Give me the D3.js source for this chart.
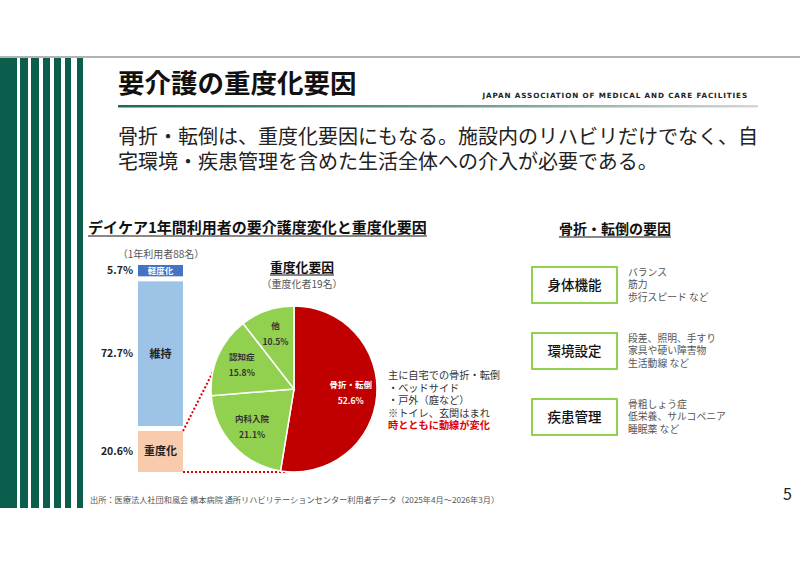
<!DOCTYPE html>
<html>
<head>
<meta charset="utf-8">
<script src="https://cdn.jsdelivr.net/npm/d3@7"></script>
<style>
  body { margin: 0; background: #fff; }
  svg { font-family: "Noto Sans CJK JP", "Noto Sans", sans-serif; }
</style>
</head>
<body>
<div id="slide"></div>
<script>
// 要介護度変化（1年利用者88名）
const barCats = ['軽度化', '維持', '重度化']
const barVals = [5.7, 72.7, 20.6]
// 重度化要因（重度化者19名）
const pieCats = ['骨折・転倒', '内科入院', '認知症', '他']
const pieVals = [52.6, 21.1, 15.8, 10.5]
// 骨折・転倒の要因
const factorCats = ['身体機能', '環境設定', '疾患管理']
const factorItems = [
  ['バランス', '筋力', '歩行スピード など'],
  ['段差、照明、手すり', '家具や硬い障害物', '生活動線 など'],
  ['骨粗しょう症', '低栄養、サルコペニア', '睡眠薬 など']
]
const noteLines = ['主に自宅での骨折・転倒', '・ベッドサイド', '・戸外（庭など）', '※トイレ、玄関はまれ', '時とともに動線が変化']

let width = 800
let height = 566
let green = '#0b5e4c'

let svg = d3.select('#slide')
  .append('svg')
  .attr('width', width)
  .attr('height', height)

let defs = svg.append('defs')
let grad = defs.append('linearGradient').attr('id', 'rule')
grad.append('stop').attr('offset', '0%').attr('stop-color', '#1d6b55')
grad.append('stop').attr('offset', '55%').attr('stop-color', '#6e9c8c')
grad.append('stop').attr('offset', '100%').attr('stop-color', '#d6d6d6')

// 左の縦縞と上の罫線
svg.append('line')
  .attr('x1', 0).attr('x2', width).attr('y1', 57).attr('y2', 57)
  .attr('stroke', '#9a9a9a').attr('stroke-width', 1.5)
let stripes = [[0, 17], [20, 8], [31, 8], [43, 7], [54, 7], [65, 6], [77, 6]]
svg.selectAll('rect.stripe')
  .data(stripes)
  .enter()
  .append('rect')
  .attr('class', 'stripe')
  .attr('x', d => d[0]).attr('width', d => d[1])
  .attr('y', 58).attr('height', 450)
  .attr('fill', green)

// タイトル
svg.append('text')
  .attr('x', 118).attr('y', 93)
  .attr('font-size', 26.5).attr('font-weight', 700).attr('fill', '#111')
  .text('要介護の重度化要因')
svg.append('rect')
  .attr('x', 118).attr('y', 105).attr('width', 640).attr('height', 2.5)
  .attr('fill', 'url(#rule)')
svg.append('text')
  .attr('x', 748).attr('y', 98).attr('text-anchor', 'end')
  .attr('font-family', 'DejaVu Sans').attr('font-size', 7.2).attr('font-weight', 700)
  .attr('letter-spacing', 0.9).attr('fill', '#222')
  .text('JAPAN ASSOCIATION OF MEDICAL AND CARE FACILITIES')

let lead = ['骨折・転倒は、重度化要因にもなる。施設内のリハビリだけでなく、自', '宅環境・疾患管理を含めた生活全体への介入が必要である。']
svg.selectAll('text.lead')
  .data(lead)
  .enter()
  .append('text')
  .attr('class', 'lead')
  .attr('x', 118).attr('y', (d, i) => 144 + i * 25)
  .attr('font-size', 20).attr('fill', '#222')
  .text(d => d)

// 見出し
function heading(x, y, size, txt) {
  let t = svg.append('text')
    .attr('x', x).attr('y', y)
    .attr('font-size', size).attr('font-weight', 700).attr('fill', '#111')
    .text(txt)
  let w = t.node().getComputedTextLength()
  svg.append('line')
    .attr('x1', x).attr('x2', x + w).attr('y1', y + 3).attr('y2', y + 3)
    .attr('stroke', '#111').attr('stroke-width', 1.2)
}
heading(88, 233, 15, 'デイケア1年間利用者の要介護度変化と重度化要因')
heading(559, 234, 14, '骨折・転倒の要因')
heading(270, 272, 12.8, '重度化要因')

svg.append('text')
  .attr('x', 161).attr('y', 258).attr('text-anchor', 'middle')
  .attr('font-size', 10).attr('fill', '#555')
  .text('（1年利用者88名）')
svg.append('text')
  .attr('x', 302).attr('y', 288).attr('text-anchor', 'middle')
  .attr('font-size', 10).attr('fill', '#555')
  .text('（重度化者19名）')

// 積み上げ棒
let barColors = ['#4472c4', '#9dc3e6', '#f8cbad']
let barTextColors = ['#fff', '#222', '#222']
let gap = 5
let barBottom = 472
let hScale = d3.scaleLinear().domain([0, 100]).range([0, 209 - gap * 2])
let stack = []
let yb = barBottom
for (let i = barVals.length - 1; i >= 0; i--) {
  let h = hScale(barVals[i])
  stack[i] = { cat: barCats[i], val: barVals[i], y: yb - h, h: h, i: i }
  yb = yb - h - gap
}
let barX = 138
let barW = 45
let bar = svg.selectAll('g.seg')
  .data(stack)
  .enter()
  .append('g')
  .attr('class', 'seg')
bar.append('rect')
  .attr('x', barX).attr('width', barW)
  .attr('y', d => d.y).attr('height', d => d.h)
  .attr('fill', d => barColors[d.i])
bar.append('text')
  .attr('x', barX + barW / 2).attr('y', d => d.y + d.h / 2)
  .attr('dy', '0.36em').attr('text-anchor', 'middle')
  .attr('font-size', d => d.i === 0 ? 8.5 : 11).attr('font-weight', 700)
  .attr('fill', d => barTextColors[d.i])
  .text(d => d.cat)
bar.append('text')
  .attr('x', 133).attr('y', d => d.y + d.h / 2)
  .attr('dy', '0.36em').attr('text-anchor', 'end')
  .attr('font-size', 10.5).attr('font-weight', 700).attr('fill', '#222')
  .text(d => d.val + '%')

// 円グラフ
let cx = 294
let cy = 389
let r = 83
let pieColors = ['#c00000', '#92d050', '#92d050', '#92d050']
let pie = d3.pie().sort(null).value(d => d)
let arc = d3.arc().innerRadius(0).outerRadius(r)
let labelArc = d3.arc().innerRadius(57).outerRadius(57)
let arcs = pie(pieVals)

// 点線（重度化→円）
let sev = stack[2]
svg.append('line')
  .attr('x1', barX + barW).attr('y1', sev.y)
  .attr('x2', 221).attr('y2', 356)
  .attr('stroke', '#e00000').attr('stroke-width', 2).attr('stroke-dasharray', '2,2')
svg.append('line')
  .attr('x1', barX + barW).attr('y1', barBottom)
  .attr('x2', 285).attr('y2', barBottom)
  .attr('stroke', '#e00000').attr('stroke-width', 2).attr('stroke-dasharray', '2,2')

let pg = svg.append('g').attr('transform', 'translate(' + cx + ',' + cy + ')')
pg.selectAll('path')
  .data(arcs)
  .enter()
  .append('path')
  .attr('d', arc)
  .attr('fill', (d, i) => pieColors[i])
  .attr('stroke', 'white')
  .attr('stroke-width', 1.5)
let pl = pg.selectAll('g.lab')
  .data(arcs)
  .enter()
  .append('g')
  .attr('class', 'lab')
  .attr('transform', d => 'translate(' + labelArc.centroid(d) + ')')
pl.append('text')
  .attr('y', -6).attr('text-anchor', 'middle')
  .attr('font-size', 8.5).attr('font-weight', 700)
  .attr('fill', (d, i) => i === 0 ? '#fff' : '#333')
  .text((d, i) => pieCats[i])
pl.append('text')
  .attr('y', 10).attr('text-anchor', 'middle')
  .attr('font-size', 8.5).attr('font-weight', 700)
  .attr('fill', (d, i) => i === 0 ? '#fff' : '#333')
  .text((d, i) => pieVals[i] + '%')

// 注記
svg.selectAll('text.note')
  .data(noteLines)
  .enter()
  .append('text')
  .attr('class', 'note')
  .attr('x', 388).attr('y', (d, i) => 379 + i * 12.6)
  .attr('font-size', 10.2)
  .attr('font-weight', (d, i) => i === noteLines.length - 1 ? 700 : 400)
  .attr('fill', (d, i) => i === noteLines.length - 1 ? '#e00000' : '#333')
  .text(d => d)

// 右側の要因ボックス
let boxY = [267, 333, 399]
let fg = svg.selectAll('g.factor')
  .data(factorCats)
  .enter()
  .append('g')
  .attr('class', 'factor')
  .attr('transform', (d, i) => 'translate(532,' + boxY[i] + ')')
fg.append('rect')
  .attr('width', 85).attr('height', 36)
  .attr('fill', '#fff').attr('stroke', '#92d050').attr('stroke-width', 2)
fg.append('text')
  .attr('x', 42.5).attr('y', 18).attr('dy', '0.36em').attr('text-anchor', 'middle')
  .attr('font-size', 13.5).attr('font-weight', 500).attr('fill', '#111')
  .text(d => d)
fg.each(function(d, i) {
  d3.select(this).selectAll('text.item')
    .data(factorItems[i])
    .enter()
    .append('text')
    .attr('class', 'item')
    .attr('x', 96).attr('y', (t, j) => 9 + j * 12.4)
    .attr('font-size', 9.8).attr('fill', '#555')
    .text(t => t)
})

// 出所とページ番号
svg.append('text')
  .attr('x', 90).attr('y', 503)
  .attr('font-size', 8.2).attr('fill', '#555')
  .text('出所：医療法人社団和風会 橋本病院 通所リハビリテーションセンター利用者データ（2025年4月～2026年3月）')
svg.append('text')
  .attr('x', 792).attr('y', 500).attr('text-anchor', 'end')
  .attr('font-size', 16).attr('fill', '#222')
  .text('5')
</script>
</body>
</html>
